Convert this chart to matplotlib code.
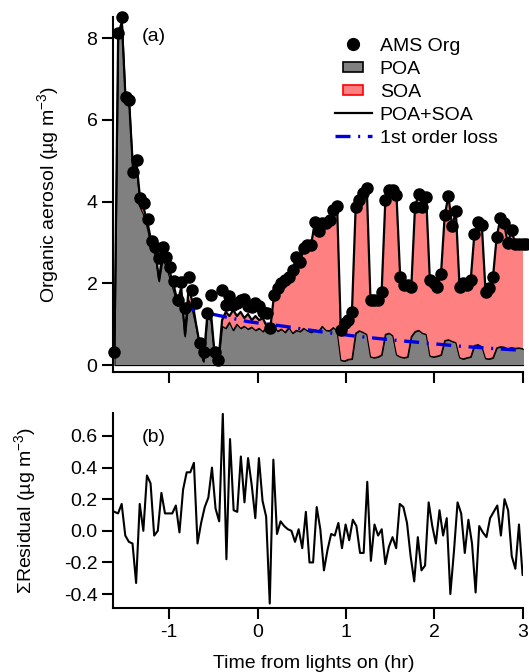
import matplotlib
matplotlib.use('Agg')
import matplotlib.pyplot as plt
import numpy as np
from matplotlib.patches import Rectangle, Patch
from matplotlib.lines import Line2D
from matplotlib.legend_handler import HandlerPatch
from matplotlib.ticker import FormatStrFormatter

plt.rcParams['font.family'] = ['Liberation Sans', 'DejaVu Sans']
plt.rcParams['font.size'] = 14
plt.rcParams['mathtext.fontset'] = 'custom'
plt.rcParams['mathtext.rm'] = 'Liberation Sans'
plt.rcParams['mathtext.it'] = 'Liberation Sans:italic'
plt.rcParams['mathtext.default'] = 'regular'
plt.rcParams['axes.unicode_minus'] = False

# top panel: one sample every ~2.5 min (hr from lights on)
t_top = -1.62 + 0.042 * np.arange(112)

ams = [0.33, 8.12, 8.53, 6.57, 6.49, 4.72, 5.02, 4.08, 3.96, 3.57,
       3.04, 2.90, 2.61, 2.90, 2.64, 2.39, 2.07, 1.59, 2.04, 1.39,
       2.16, 1.84, 1.51, 0.53, 0.33, 1.27, 1.71, 0.33, 0.12, 1.84,
       1.47, 1.69, 1.47, 1.51, 1.59, 1.61, 1.45, 1.43, 1.51, 1.45,
       1.31, 1.27, 0.90, 1.71, 1.88, 2.00, 2.08, 2.16, 2.33, 2.65,
       2.53, 2.86, 2.94, 2.94, 3.51, 3.27, 3.47, 3.47, 3.55, 3.80,
       3.89, 0.87, 1.02, 1.10, 1.31, 3.86, 4.04, 4.22, 4.33, 1.59,
       1.59, 1.60, 1.80, 4.04, 4.29, 4.29, 4.16, 2.16, 1.96, 1.96,
       1.92, 3.88, 4.19, 3.86, 4.12, 2.08, 2.00, 1.92, 2.24, 3.67,
       4.14, 3.40, 3.76, 1.92, 2.00, 1.96, 2.08, 3.22, 3.51, 3.43,
       1.80, 1.88, 2.15, 3.14, 3.59, 3.47, 2.98, 3.31, 2.96, 2.96,
       2.96, 2.96]

# POA+SOA fit
fit = [0.33, 8.10, 8.40, 6.50, 6.40, 4.80, 4.90, 4.00, 3.80, 3.45,
       3.00, 2.80, 2.10, 2.75, 2.55, 2.25, 1.95, 1.55, 1.90, 0.75,
       1.90, 1.55, 1.00, 0.50, 0.10, 1.20, 1.30, 0.25, 0.08, 1.10,
       1.30, 1.20, 1.35, 1.20, 1.30, 1.15, 1.25, 1.10, 1.20, 1.10,
       1.15, 0.95, 0.90, 1.71, 1.88, 2.00, 2.08, 2.16, 2.33, 2.65,
       2.53, 2.86, 2.94, 2.94, 3.51, 3.27, 3.47, 3.47, 3.55, 3.80,
       3.89, 0.87, 1.02, 1.10, 1.31, 3.86, 4.04, 4.22, 4.33, 1.59,
       1.59, 1.60, 1.80, 4.04, 4.29, 4.29, 4.16, 2.16, 1.96, 1.96,
       1.92, 3.88, 4.19, 3.86, 4.12, 2.08, 2.00, 1.92, 2.24, 3.67,
       4.14, 3.40, 3.76, 1.92, 2.00, 1.96, 2.08, 3.22, 3.51, 3.43,
       1.80, 1.88, 2.15, 3.14, 3.59, 3.47, 2.98, 3.31, 2.96, 2.96,
       2.96, 2.96]

poa = [0.33, 8.10, 8.40, 6.45, 6.35, 4.70, 4.75, 3.85, 3.65, 3.30,
       2.85, 2.70, 2.05, 2.60, 2.40, 2.10, 1.80, 1.45, 1.70, 0.70,
       1.60, 1.35, 0.95, 0.45, 0.08, 1.15, 1.10, 0.22, 0.06, 0.95,
       0.90, 1.05, 0.85, 1.00, 0.90, 0.95, 0.88, 0.93, 0.85, 0.90,
       0.82, 0.92, 0.85, 0.95, 0.83, 0.88, 0.80, 0.92, 0.78, 0.85,
       0.82, 0.90, 0.84, 0.80, 0.86, 0.82, 0.95, 0.85, 0.84, 0.92,
       0.83, 0.12, 0.10, 0.14, 0.15, 0.78, 0.84, 0.80, 0.75, 0.20,
       0.18, 0.20, 0.25, 0.75, 0.78, 0.72, 0.25, 0.20, 0.18, 0.20,
       0.70, 0.82, 0.85, 0.78, 0.75, 0.22, 0.20, 0.22, 0.25, 0.60,
       0.62, 0.58, 0.55, 0.18, 0.15, 0.18, 0.20, 0.48, 0.50, 0.45,
       0.16, 0.15, 0.18, 0.42, 0.45, 0.44, 0.40, 0.43, 0.41, 0.42,
       0.40, 0.40]

# 1st order loss curve, read at a few times
t_loss = [-0.87, -0.5, -0.1, 0.3, 0.7, 1.1, 1.5, 1.9, 2.3, 2.7, 3.0]
loss = [1.43, 1.24, 1.06, 0.95, 0.82, 0.71, 0.62, 0.54, 0.46, 0.40, 0.36]

resid = [0.12, 0.11, 0.17, -0.03, -0.07, -0.08, -0.33, 0.17, 0.00, 0.35,
         0.30, -0.03, 0.00, 0.24, 0.11, 0.11, 0.11, 0.16, -0.01, 0.26,
         0.37, 0.37, 0.43, -0.08, 0.05, 0.15, 0.21, 0.40, 0.14, 0.06,
         0.74, -0.18, 0.58, 0.13, 0.12, 0.47, 0.18, 0.46, 0.29, 0.08,
         0.46, 0.19, 0.09, -0.46, 0.45, -0.02, 0.06, 0.03, 0.01, 0.00,
         -0.07, 0.01, -0.11, 0.12, -0.20, -0.20, 0.15, 0.01, -0.25, -0.12,
         -0.02, -0.03, 0.05, -0.11, 0.04, -0.06, 0.07, 0.03, -0.14, -0.14,
         0.31, -0.19, 0.04, -0.03, 0.01, -0.21, -0.10, -0.04, -0.11, 0.17,
         0.15, 0.05, -0.16, -0.32, -0.04, -0.25, -0.22, 0.18, 0.03, -0.08,
         0.13, -0.03, 0.08, -0.40, -0.13, 0.18, 0.11, -0.14, 0.07, -0.08,
         -0.39, 0.03, -0.01, -0.04, 0.08, 0.12, 0.16, -0.03, 0.20, 0.13,
         -0.16, -0.24, 0.04, -0.28, -0.19]
t_res = np.linspace(-1.62, 3.04, len(resid))

xticks = [-1, 0, 1, 2, 3]

fig = plt.figure(figsize=(5.29, 6.72), dpi=100)
ax1 = fig.add_axes([0.213, 0.4464, 0.775, 0.5283])
ax2 = fig.add_axes([0.213, 0.0948, 0.775, 0.2906])

for ax in (ax1, ax2):
    ax.spines['top'].set_visible(False)
    ax.spines['right'].set_visible(False)
    ax.spines['left'].set_linewidth(1.5)
    ax.spines['bottom'].set_linewidth(1.5)
    ax.tick_params(direction='out', length=8, width=1.5, pad=3)
    ax.set_xlim(-1.64, 3.0)
    ax.set_xticks(xticks)

# (a)
ax1.fill_between(t_top, 0, poa, facecolor='#808080', edgecolor='black', lw=0.8, zorder=1)
ax1.fill_between(t_top, poa, fit, facecolor='#FF8080', edgecolor='none', zorder=1)
ax1.plot(t_top, poa, color='black', lw=0.8, zorder=2)
ax1.plot(t_top, fit, color='black', lw=1.6, zorder=3)
ax1.plot(t_loss, loss, color='#0000DD', lw=2.4, ls=(0, (4.5, 2.3, 0.6, 2.3)), zorder=4)
ax1.plot(t_top, ams, 'o', color='black', ms=8, zorder=5, clip_on=False)

ax1.set_ylim(-0.17, 8.52)
ax1.set_yticks([0, 2, 4, 6, 8])
ax1.tick_params(labelbottom=False)
ax1.set_ylabel('Organic aerosol (µg m$^{-3}$)', va='center')
ax1.yaxis.set_label_coords(-0.158, 0.5)
ax1.text(0.071, 0.944, '(a)', transform=ax1.transAxes, va='center', ha='left')

class SmallPatch(HandlerPatch):
    def create_artists(self, legend, orig_handle, xdescent, ydescent, width, height, fontsize, trans):
        w, h = 14.4, 7.2
        p = Rectangle((-xdescent + (width - w) / 2, -ydescent + (height - h) / 2), w, h)
        self.update_prop(p, orig_handle, legend)
        p.set_transform(trans)
        return [p]

handles = [
    Line2D([], [], marker='o', ls='none', color='black', ms=8.5),
    Patch(facecolor='#808080', edgecolor='black', lw=1.2),
    Patch(facecolor='#FF8080', edgecolor='red', lw=1.2),
    Line2D([], [], color='black', lw=1.6),
    Line2D([], [], color='#0000DD', lw=2.4, ls=(0, (4.5, 2.3, 0.6, 2.3))),
]
labels = ['AMS Org', 'POA', 'SOA', 'POA+SOA', '1st order loss']
ax1.legend(handles, labels, loc='upper left', bbox_to_anchor=(335 / 529, 1 - 37 / 672),
           bbox_transform=fig.transFigure, frameon=False, borderpad=0, borderaxespad=0,
           handlelength=1.9, handletextpad=0.4, labelspacing=0.28,
           handler_map={Patch: SmallPatch()})

# (b)
ax2.plot(t_res, resid, color='black', lw=1.5)
ax2.set_ylim(-0.49, 0.745)
ax2.set_yticks([-0.4, -0.2, 0.0, 0.2, 0.4, 0.6])
ax2.yaxis.set_major_formatter(FormatStrFormatter('%.1f'))
ax2.set_ylabel('ΣResidual (µg m$^{-3}$)', va='center')
ax2.yaxis.set_label_coords(-0.214, 0.5)
ax2.set_xlabel('Time from lights on (hr)')
ax2.xaxis.set_label_coords(0.49, -0.24)
ax2.text(0.071, 0.877, '(b)', transform=ax2.transAxes, va='center', ha='left')

fig.savefig('out.png', dpi=100)
